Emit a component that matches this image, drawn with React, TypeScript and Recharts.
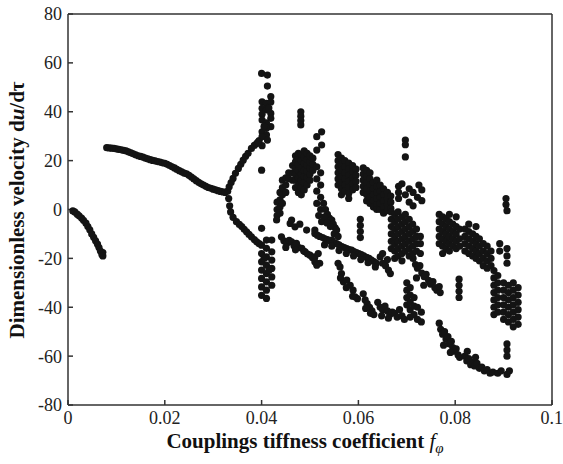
import React from "react";
import { ScatterChart, Scatter, XAxis, YAxis } from "recharts";

type Pt = [number, number];

// x = coupling stiffness coefficient f_phi, y = du/dtau
const branchLeft: Pt[] = [
  [0.001, -0.6], [0.0014, -1.0], [0.0019, -1.9], [0.0023, -2.6], [0.0028, -3.5], [0.0032, -4.4],
  [0.0037, -5.6], [0.0041, -7.0], [0.0045, -8.3], [0.0049, -10.0], [0.0053, -11.4], [0.0057, -12.8],
  [0.0061, -14.2], [0.0064, -15.6], [0.0067, -17.0], [0.007, -18.4], [0.0072, -17.6], [0.0072, -19.0],
];

const branchUpper: Pt[] = [
  [0.008, 25.3], [0.0085, 25.2], [0.009, 25.1], [0.0095, 25.0], [0.01, 24.8], [0.0105, 24.6],
  [0.011, 24.4], [0.0115, 24.2], [0.012, 24.0], [0.0125, 23.6], [0.013, 23.2], [0.0135, 22.8],
  [0.014, 22.4], [0.0145, 22.0], [0.015, 21.7], [0.0155, 21.4], [0.016, 21.0], [0.0165, 20.7],
  [0.017, 20.4], [0.0175, 20.1], [0.018, 19.9], [0.0185, 19.6], [0.019, 19.4], [0.0195, 19.1],
  [0.02, 18.9], [0.0205, 18.5], [0.021, 18.0], [0.0215, 17.5], [0.022, 17.0], [0.0225, 16.4],
  [0.023, 15.9], [0.0235, 15.4], [0.024, 14.9], [0.0245, 14.6], [0.025, 14.0], [0.0255, 13.3],
  [0.026, 12.5], [0.0265, 11.8], [0.027, 11.1], [0.0275, 10.5], [0.028, 10.0], [0.0285, 9.5],
  [0.029, 9.0], [0.0295, 8.7], [0.03, 8.3], [0.0305, 8.0], [0.031, 7.7], [0.0315, 7.4],
  [0.032, 7.2], [0.0325, 7.0], [0.033, 7.5],
];

const splitUp: Pt[] = [
  [0.0333, 9.3], [0.0337, 11.0], [0.0341, 12.7], [0.0346, 14.8], [0.0352, 16.8], [0.0357, 18.5],
  [0.0362, 20.2], [0.0367, 21.8], [0.0372, 23.0], [0.0379, 25.0], [0.0385, 26.2], [0.039, 27.0],
  [0.0395, 28.2],
];

const splitDown: Pt[] = [
  [0.0332, 4.5], [0.0334, 1.5], [0.0336, -1.0], [0.0341, -3.2], [0.0348, -5.0], [0.0354, -6.1],
  [0.0359, -7.0], [0.0364, -8.1], [0.0369, -9.1], [0.0374, -10.2], [0.0379, -11.2], [0.0385, -12.3],
  [0.039, -13.2], [0.0395, -14.0],
];

const burstTop: Pt[] = [
  [0.04, 55.7], [0.0412, 55.0], [0.0412, 50.5], [0.0419, 46.2], [0.0401, 44.1], [0.041, 43.4],
  [0.0419, 44.0], [0.0401, 41.4], [0.041, 40.8], [0.0419, 39.3], [0.0401, 39.0], [0.0419, 37.3],
  [0.0401, 36.6], [0.041, 35.5], [0.0419, 33.9], [0.041, 33.2], [0.0401, 31.8], [0.041, 30.5],
  [0.0401, 29.8], [0.0412, 28.4], [0.0401, 26.1], [0.0393, 27.7], [0.0405, 34.0], [0.0415, 41.5],
  [0.04, 16.1],
];

const burstBottom: Pt[] = [
  [0.04, -7.7], [0.04, -14.6], [0.04, -18.0], [0.04, -21.4], [0.04, -24.8], [0.04, -28.2],
  [0.04, -31.7], [0.04, -35.1], [0.041, -12.5], [0.041, -15.9], [0.041, -19.4], [0.041, -22.8],
  [0.041, -26.2], [0.041, -29.6], [0.041, -33.0], [0.041, -36.4], [0.0421, -12.5], [0.0421, -17.3],
  [0.0421, -20.7], [0.0421, -24.1], [0.0421, -27.6], [0.0421, -31.0], [0.0405, -20.0], [0.0415, -25.0],
];

const lobe045: Pt[] = [
  [0.0432, 3.0], [0.0432, 0.0], [0.0432, -2.5], [0.0431, -4.3], [0.0438, 7.0], [0.0438, 4.0],
  [0.0438, 1.0], [0.0438, -1.5], [0.0443, 12.0], [0.0443, 9.0], [0.0443, 6.0], [0.0443, 2.5],
  [0.045, 13.0], [0.045, 10.0], [0.045, 7.0], [0.0456, 15.0], [0.0456, 12.5],
  [0.0459, -5.7], [0.0469, -7.1], [0.0479, -6.0], [0.0493, -8.4], [0.0462, -4.3],
];

const band045: Pt[] = [
  [0.0441, -11.2], [0.0446, -12.8], [0.0452, -13.9], [0.0457, -12.6], [0.0462, -13.2], [0.0467, -14.8],
  [0.0472, -13.9], [0.0477, -15.6], [0.0483, -15.9], [0.0487, -17.0], [0.049, -17.3], [0.0495, -18.2],
  [0.05, -18.7], [0.0505, -19.6], [0.051, -19.4], [0.051, -21.4], [0.0517, -18.0], [0.052, -22.0],
  [0.0514, -22.8], [0.045, -15.5], [0.047, -16.5],
];

const cluster048: Pt[] = [
  [0.0481, 40.0], [0.0481, 38.2], [0.0481, 36.4], [0.0481, 34.6], [0.0524, 31.8], [0.0514, 29.8],
  [0.0524, 26.4], [0.0514, 24.3],
  [0.0464, 12], [0.0464, 15], [0.0464, 18],
  [0.047, 9], [0.047, 12], [0.047, 14.5], [0.047, 17], [0.047, 19.5], [0.047, 22],
  [0.0476, 7], [0.0476, 10], [0.0476, 13], [0.0476, 16], [0.0476, 18.5], [0.0476, 21], [0.0476, 23],
  [0.0482, 6], [0.0482, 9], [0.0482, 12], [0.0482, 14.5], [0.0482, 17], [0.0482, 20], [0.0482, 22.5],
  [0.0488, 8], [0.0488, 11], [0.0488, 13.5], [0.0488, 16], [0.0488, 19], [0.0488, 21.5], [0.0488, 24],
  [0.0494, 10], [0.0494, 13], [0.0494, 15.5], [0.0494, 18], [0.0494, 20.5], [0.0494, 23],
  [0.05, 12], [0.05, 14.5], [0.05, 17], [0.05, 19.5], [0.05, 22],
  [0.0506, 16], [0.0506, 18.5], [0.0506, 21],
  [0.0514, 17.5], [0.0522, 15.0], [0.0514, 12.5], [0.0522, 10.0], [0.0514, 7.5], [0.0522, 5.0],
  [0.0514, 2.5], [0.0522, 0.0], [0.0518, -2.5], [0.0524, -5.0], [0.051, -8.4],
  [0.0528, 2.5], [0.0532, 0.0], [0.0536, -2.0], [0.054, -3.5], [0.0545, -4.3], [0.0548, -6.0],
  [0.0552, -7.5], [0.0555, -8.4], [0.053, -3.0], [0.0535, -5.5], [0.0542, -7.0], [0.055, -10.0],
  [0.0558, -11.0],
];

const bandMiddle: Pt[] = [
  [0.051, -9.8], [0.0515, -10.5], [0.052, -11.0], [0.0526, -11.5], [0.0531, -12.0], [0.0536, -12.3],
  [0.0541, -12.8], [0.0545, -12.5], [0.055, -13.5], [0.0555, -14.0], [0.056, -14.5], [0.0566, -15.2],
  [0.0571, -15.6], [0.0576, -16.0], [0.0581, -16.4], [0.0586, -16.6], [0.0591, -17.2], [0.0596, -17.6],
  [0.0601, -18.0], [0.0606, -18.5], [0.0611, -19.0], [0.0617, -19.6], [0.0622, -20.0], [0.0627, -20.7],
  [0.0632, -21.3], [0.0637, -22.0],
  [0.053, -14.5], [0.0545, -15.0], [0.056, -16.8], [0.0575, -18.0], [0.059, -19.0], [0.0605, -20.5],
  [0.062, -21.8], [0.0635, -23.5],
  [0.0645, -19.4], [0.065, -22.0], [0.0656, -23.0], [0.0662, -24.8], [0.0666, -26.2], [0.065, -18.0],
  [0.066, -20.5],
  [0.0713, -20.0], [0.0718, -22.5], [0.0722, -24.0], [0.0727, -23.0], [0.0731, -26.0], [0.0736, -27.5],
  [0.074, -26.5], [0.0745, -29.0], [0.0749, -30.5], [0.0754, -29.5], [0.0758, -32.0], [0.0762, -33.0],
  [0.0767, -31.5], [0.0769, -34.0], [0.072, -28.0], [0.0735, -31.0],
];

const bandLower: Pt[] = [
  [0.0558, -22.0], [0.0562, -23.5], [0.0565, -26.2], [0.0569, -29.6], [0.0576, -28.9], [0.0583, -31.0],
  [0.0589, -33.0], [0.0593, -35.7], [0.0598, -36.5], [0.0563, -28.0], [0.0575, -32.0], [0.0588, -35.5],
  [0.061, -34.5], [0.0614, -37.0], [0.0618, -38.5], [0.0623, -40.0], [0.0628, -41.5], [0.0632, -43.0],
  [0.0615, -40.5], [0.0625, -42.5],
  [0.064, -38.0], [0.0645, -40.0], [0.065, -41.0], [0.0655, -39.5], [0.066, -41.5], [0.0665, -43.0],
  [0.067, -42.0], [0.0675, -42.5], [0.068, -44.0], [0.0685, -41.0], [0.069, -43.5], [0.0695, -45.0],
  [0.0648, -43.5], [0.0662, -44.5],
  [0.07, -30.0], [0.07, -33.0], [0.07, -36.0], [0.07, -39.0], [0.0707, -32.0], [0.0707, -35.0],
  [0.0707, -38.0], [0.0707, -41.0], [0.0707, -44.0], [0.0715, -36.0], [0.0715, -39.5], [0.0715, -43.0],
  [0.0722, -40.0], [0.0722, -45.0], [0.073, -42.0], [0.073, -46.0],
  [0.0767, -46.5], [0.077, -49.0], [0.0774, -51.0], [0.0778, -50.0], [0.0781, -53.0], [0.0785, -52.0],
  [0.0788, -55.0], [0.0792, -54.0], [0.0795, -56.5], [0.0799, -58.0], [0.0802, -57.0], [0.0806, -59.5],
  [0.0809, -60.5], [0.0776, -55.5], [0.079, -58.5],
  [0.082, -60.0], [0.0824, -62.0], [0.0828, -61.0], [0.0832, -63.5], [0.0836, -62.5], [0.084, -64.0],
  [0.0845, -63.0], [0.085, -65.0], [0.0855, -64.5], [0.086, -66.0], [0.0866, -65.5], [0.0872, -67.0],
  [0.0878, -66.5], [0.0825, -58.0], [0.0842, -60.5],
  [0.0888, -67.0], [0.0895, -66.0], [0.0907, -67.5], [0.0912, -66.0], [0.0907, -55.0], [0.0907, -57.5],
  [0.0907, -60.0],
];

const cluster058: Pt[] = [
  [0.0558, 22.5], [0.0558, 20], [0.0558, 17.5], [0.0558, 15], [0.0558, 12.5], [0.0558, 10],
  [0.0565, 21], [0.0565, 18.5], [0.0565, 16], [0.0565, 13.5], [0.0565, 11], [0.0565, 8.5], [0.0565, 6],
  [0.0572, 20], [0.0572, 17.5], [0.0572, 15], [0.0572, 12.5], [0.0572, 10], [0.0572, 7.5],
  [0.058, 19], [0.058, 16.5], [0.058, 14], [0.058, 11.5], [0.058, 9], [0.058, 6.5], [0.058, 4.5],
  [0.0588, 18], [0.0588, 15.5], [0.0588, 13], [0.0588, 10.5], [0.0588, 8],
  [0.0595, 16.5], [0.0595, 14], [0.0595, 11.5], [0.0595, 9],
  [0.0604, -4.0], [0.0604, -6.5], [0.0604, -9.0], [0.0604, -11.5],
];

const cluster063: Pt[] = [
  [0.061, 17], [0.061, 14.5], [0.061, 12], [0.061, 9.5], [0.061, 7],
  [0.0617, 16], [0.0617, 13.5], [0.0617, 11], [0.0617, 8.5], [0.0617, 6], [0.0617, 3.5],
  [0.0624, 15], [0.0624, 12.5], [0.0624, 10], [0.0624, 7.5], [0.0624, 5], [0.0624, 2.5],
  [0.0631, 11], [0.0631, 8.5], [0.0631, 6], [0.0631, 3.5], [0.0631, 1],
  [0.0638, 12], [0.0638, 9.5], [0.0638, 7], [0.0638, 4.5], [0.0638, 2], [0.0638, 0],
  [0.0645, 10], [0.0645, 7.5], [0.0645, 5], [0.0645, 2.5], [0.0645, 0],
  [0.0652, 8.5], [0.0652, 6], [0.0652, 3.5], [0.0652, 1], [0.0652, -1.5],
  [0.066, 7], [0.066, 4.5], [0.066, 2], [0.066, -0.5],
  [0.0667, 5.5], [0.0667, 3], [0.0667, 0.5],
];

const cluster070: Pt[] = [
  [0.0697, 28.4], [0.0697, 26.5], [0.0697, 21.5], [0.0683, 9.5], [0.0683, 7.0], [0.0683, 4.5],
  [0.069, 10.5], [0.0697, 6.0], [0.0705, 8.5], [0.0705, 3.0], [0.0713, 7.0], [0.0713, 1.5],
  [0.0722, 5.0], [0.0731, 8.0], [0.0731, 3.6], [0.0725, 10.0],
  [0.0668, -1], [0.0668, -4], [0.0668, -7], [0.0668, -10], [0.0668, -13], [0.0668, -16],
  [0.0675, -2], [0.0675, -5], [0.0675, -8], [0.0675, -11], [0.0675, -14], [0.0675, -17], [0.0675, -20],
  [0.0682, -1], [0.0682, -4], [0.0682, -7], [0.0682, -10], [0.0682, -13], [0.0682, -16], [0.0682, -19],
  [0.069, -3], [0.069, -6], [0.069, -9], [0.069, -12], [0.069, -15], [0.069, -18], [0.069, -21],
  [0.0697, -2], [0.0697, -5], [0.0697, -8], [0.0697, -11], [0.0697, -14], [0.0697, -17],
  [0.0705, -4], [0.0705, -7], [0.0705, -10], [0.0705, -13], [0.0705, -16], [0.0705, -19],
  [0.0712, -6], [0.0712, -9], [0.0712, -12], [0.0712, -15], [0.0712, -18],
  [0.072, -8], [0.072, -11], [0.072, -14], [0.072, -17],
  [0.0728, -11], [0.0728, -14], [0.0728, -18],
];

const cluster080: Pt[] = [
  [0.0767, -2], [0.0767, -5], [0.0767, -8], [0.0767, -11], [0.0767, -14],
  [0.0774, -3], [0.0774, -6], [0.0774, -9], [0.0774, -12], [0.0774, -15], [0.0774, -18],
  [0.0781, -4], [0.0781, -7], [0.0781, -10], [0.0781, -13], [0.0781, -16],
  [0.0788, -2], [0.0788, -5], [0.0788, -8], [0.0788, -11], [0.0788, -14], [0.0788, -17],
  [0.0795, -6], [0.0795, -9], [0.0795, -12], [0.0795, -15],
  [0.0802, -3], [0.0802, -7], [0.0802, -10], [0.0802, -13], [0.0802, -16],
  [0.0809, -8], [0.0809, -12], [0.0809, -15],
  [0.0808, -28.5], [0.0808, -31.0], [0.0808, -33.5], [0.0808, -36.0],
];

const cluster085: Pt[] = [
  [0.082, -8], [0.082, -11], [0.082, -14], [0.082, -17],
  [0.0828, -6], [0.0828, -9], [0.0828, -12], [0.0828, -15], [0.0828, -18],
  [0.0836, -10], [0.0836, -13], [0.0836, -16], [0.0836, -19],
  [0.0843, -7], [0.0843, -11], [0.0843, -14], [0.0843, -17], [0.0843, -20],
  [0.085, -12], [0.085, -15], [0.085, -18], [0.085, -21],
  [0.0858, -14], [0.0858, -17], [0.0858, -20], [0.0858, -23],
  [0.0866, -15], [0.0866, -18], [0.0866, -21], [0.0866, -24],
  [0.0874, -17], [0.0874, -20], [0.0874, -23],
];

const clusterEnd: Pt[] = [
  [0.0905, 4.5], [0.0905, 2.0], [0.0907, -0.5], [0.0892, -14.0], [0.0892, -17.0], [0.0907, -16.0],
  [0.0907, -19.0], [0.0907, -22.0],
  [0.088, -25], [0.088, -28], [0.088, -31], [0.088, -34], [0.088, -37], [0.088, -40], [0.088, -43],
  [0.0888, -27], [0.0888, -30], [0.0888, -33], [0.0888, -36], [0.0888, -39], [0.0888, -42],
  [0.09, -30], [0.09, -33], [0.09, -36], [0.09, -39], [0.09, -42], [0.09, -45],
  [0.091, -31], [0.091, -34], [0.091, -37], [0.091, -40], [0.091, -43], [0.091, -46],
  [0.092, -30], [0.092, -33], [0.092, -36], [0.092, -39], [0.092, -42], [0.092, -45], [0.092, -48],
  [0.093, -32], [0.093, -35], [0.093, -38], [0.093, -41], [0.093, -44], [0.093, -47],
];

const xTicks = [0, 0.02, 0.04, 0.06, 0.08, 0.1];
const yTicks = [-80, -60, -40, -20, 0, 20, 40, 60, 80];

const points = [
  ...branchLeft, ...branchUpper, ...splitUp, ...splitDown, ...burstTop, ...burstBottom,
  ...lobe045, ...band045, ...cluster048, ...bandMiddle, ...bandLower, ...cluster058,
  ...cluster063, ...cluster070, ...cluster080, ...cluster085, ...clusterEnd,
].map(([x, y]) => ({ x, y }));

const font = "'Liberation Serif', 'Times New Roman', serif";
const axisColor = "#333";
const tickStyle = { fill: "#222", fontSize: 18, fontFamily: font };

const Dot = (props: any) => <circle cx={props.cx} cy={props.cy} r={3.6} fill="#141414" />;
const NoDot = () => <g />;

const XTitle = () => (
  <text x={305} y={448} textAnchor="middle" fontFamily={font} fontSize={21} fontWeight="bold" fill="#111">
    Couplings tiffness coefficient{" "}
    <tspan fontStyle="italic" fontWeight="normal">f</tspan>
    <tspan fontStyle="italic" fontWeight="normal" fontSize={15} dy={5}>φ</tspan>
  </text>
);

const YTitle = () => (
  <text
    transform="rotate(-90)"
    x={-210}
    y={24}
    textAnchor="middle"
    fontFamily={font}
    fontSize={21}
    fontWeight="bold"
    fill="#111"
  >
    Dimensionless velocity d<tspan fontStyle="italic">u</tspan>/dτ
  </text>
);

const App: React.FC = () => {
  return (
    <div style={{ position: "absolute", left: 0, top: 0, background: "#fff", fontFamily: font }}>
      <ScatterChart
        width={563}
        height={464}
        margin={{ top: 13, right: 10, bottom: 29, left: 8 }}
        style={{ fontFamily: font }}
      >
        <XAxis
          type="number"
          dataKey="x"
          domain={[0, 0.1]}
          ticks={xTicks}
          height={30}
          stroke={axisColor}
          strokeWidth={1.5}
          tickSize={-5}
          tickMargin={11}
          tick={tickStyle}
          label={{ content: () => <XTitle /> }}
        />
        <XAxis
          xAxisId="top"
          orientation="top"
          type="number"
          dataKey="x"
          domain={[0, 0.1]}
          ticks={xTicks}
          height={1}
          stroke={axisColor}
          strokeWidth={1.5}
          tickSize={-5}
          tick={false}
        />
        <YAxis
          type="number"
          dataKey="y"
          domain={[-80, 80]}
          ticks={yTicks}
          width={60}
          stroke={axisColor}
          strokeWidth={1.5}
          tickSize={-5}
          tickMargin={11}
          tick={tickStyle}
          label={{ content: () => <YTitle /> }}
        />
        <YAxis
          yAxisId="right"
          orientation="right"
          type="number"
          dataKey="y"
          domain={[-80, 80]}
          ticks={yTicks}
          width={1}
          stroke={axisColor}
          strokeWidth={1.5}
          tickSize={-5}
          tick={false}
        />
        <Scatter data={points} shape={Dot} isAnimationActive={false} />
        <Scatter data={points} xAxisId="top" yAxisId="right" shape={NoDot} isAnimationActive={false} />
      </ScatterChart>
    </div>
  );
};

export default App;
